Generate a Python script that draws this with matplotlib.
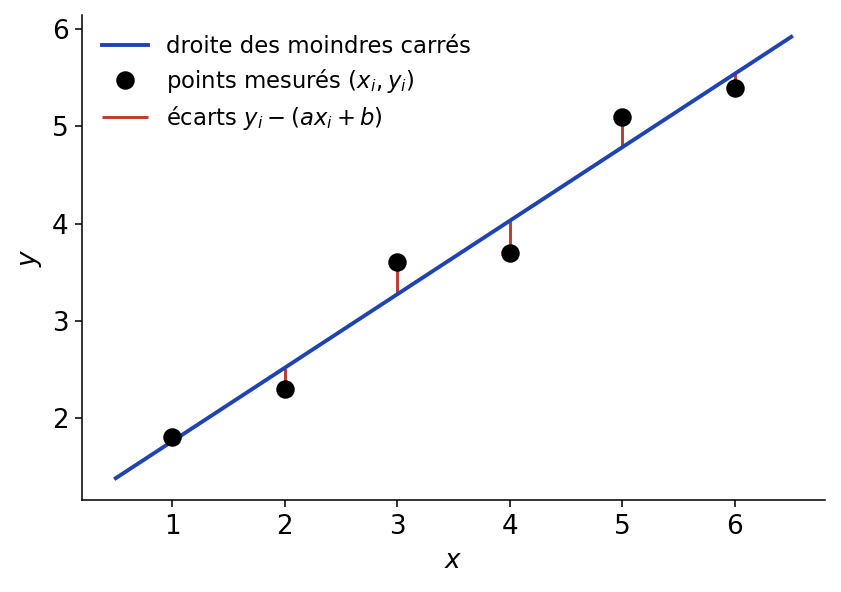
import numpy as np
import matplotlib
matplotlib.use("Agg")
import matplotlib.pyplot as plt

# mesures
x_pts = np.array([1, 2, 3, 4, 5, 6])
y_pts = np.array([1.8, 2.3, 3.6, 3.7, 5.1, 5.4])

# droite des moindres carrés
a, b = np.polyfit(x_pts, y_pts, 1)
x_line = np.array([0.5, 6.5])

fig, ax = plt.subplots(figsize=(841 / 140, 592 / 140), dpi=140)
fig.subplots_adjust(left=0.0975, right=0.981, bottom=0.155, top=0.975)

ax.plot(x_line, a * x_line + b, color="#1f43b0", lw=2, label="droite des moindres carrés", zorder=2)
ax.plot(x_pts, y_pts, "o", color="black", ms=8.5, label=r"points mesurés $(x_i, y_i)$", zorder=3)
ax.vlines(x_pts, a * x_pts + b, y_pts, color="#c0392b", lw=1.5,
          label=r"écarts $y_i - (ax_i + b)$", zorder=1)

ax.set_xlabel(r"$x$", fontsize=13.5)
ax.set_ylabel(r"$y$", fontsize=13.5)
ax.tick_params(labelsize=13.5)
ax.spines["top"].set_visible(False)
ax.spines["right"].set_visible(False)
ax.legend(frameon=False, fontsize=11.7, loc="upper left", labelspacing=0.38)

fig.savefig("out.png", dpi=140)
